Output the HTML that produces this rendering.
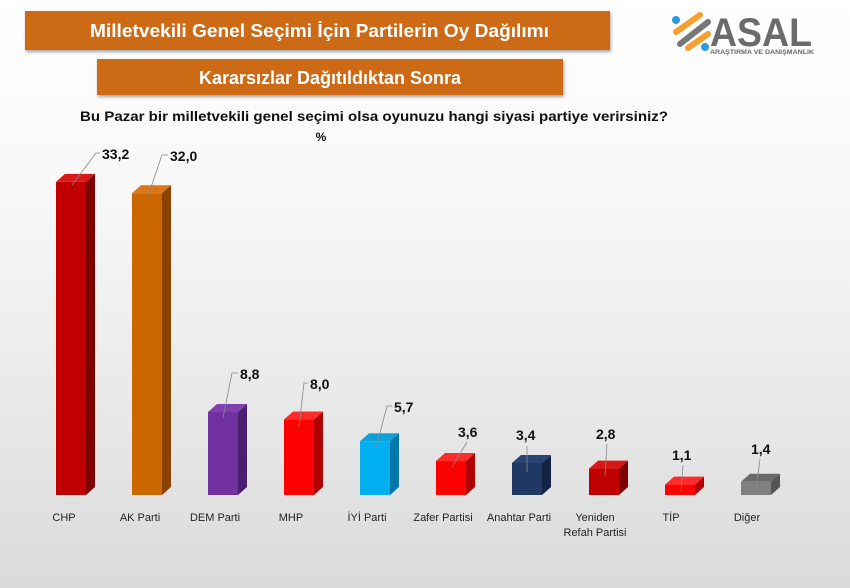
<!DOCTYPE html>
<html><head><meta charset="utf-8"><style>
html,body{margin:0;padding:0}
body{width:850px;height:588px;overflow:hidden;background:linear-gradient(#ffffff 0%,#f7f7f7 35%,#e6e6e6 75%,#dadada 100%);font-family:"Liberation Sans",sans-serif}
</style></head><body>
<svg width="850" height="588" viewBox="0 0 850 588" xmlns="http://www.w3.org/2000/svg" style="position:absolute;left:0;top:0">
<defs><filter id="sh" x="-5%" y="-20%" width="110%" height="150%"><feDropShadow dx="1" dy="2" stdDeviation="1.5" flood-color="#000" flood-opacity="0.35"/></filter></defs>
<rect x="25" y="11" width="585" height="39" fill="#cc6a12" filter="url(#sh)"/>
<text x="90" y="37" fill="#fff" font-weight="bold" font-size="18" textLength="459" lengthAdjust="spacingAndGlyphs">Milletvekili Genel Seçimi İçin Partilerin Oy Dağılımı</text>
<rect x="97" y="59" width="466" height="36" fill="#cc6a12" filter="url(#sh)"/>
<text x="330" y="84" text-anchor="middle" fill="#fff" font-weight="bold" font-size="18">Kararsızlar Dağıtıldıktan Sonra</text>
<text x="80" y="121" fill="#111" font-weight="bold" font-size="13.5" textLength="588" lengthAdjust="spacingAndGlyphs">Bu Pazar bir milletvekili genel seçimi olsa oyunuzu hangi siyasi partiye verirsiniz?</text>
<text x="321" y="141" text-anchor="middle" fill="#111" font-weight="bold" font-size="12">%</text>
<g stroke-linecap="round" fill="none">
<line x1="676" y1="32" x2="700" y2="15" stroke="#f5a030" stroke-width="6"/>
<line x1="680" y1="44" x2="708" y2="22" stroke="#777" stroke-width="6"/>
<line x1="688" y1="48" x2="708" y2="34" stroke="#f5a030" stroke-width="6"/>
</g>
<circle cx="676" cy="20" r="4" fill="#2a9be0"/><circle cx="705" cy="47" r="4" fill="#2a9be0"/>
<text x="710" y="46" fill="#6b6b6b" font-weight="bold" font-size="40" textLength="102" lengthAdjust="spacingAndGlyphs">ASAL</text>
<text x="710" y="54" fill="#6b6b6b" font-weight="bold" font-size="6" textLength="104" lengthAdjust="spacingAndGlyphs">ARAŞTIRMA VE DANIŞMANLIK</text>
<g id="bars"></g>
<g font-size="11" fill="#222" text-anchor="middle">
<text x="64" y="521">CHP</text>
<text x="140" y="521">AK Parti</text>
<text x="215" y="521">DEM Parti</text>
<text x="291" y="521">MHP</text>
<text x="367" y="521">İYİ Parti</text>
<text x="443" y="521">Zafer Partisi</text>
<text x="519" y="521">Anahtar Parti</text>
<text x="595" y="521">Yeniden</text>
<text x="595" y="536">Refah Partisi</text>
<text x="671" y="521">TİP</text>
<text x="747" y="521">Diğer</text>
</g>
<g font-size="14" font-weight="bold" fill="#111">
<text x="102" y="159">33,2</text>
<text x="170" y="161">32,0</text>
<text x="240" y="379">8,8</text>
<text x="310" y="389">8,0</text>
<text x="394" y="412">5,7</text>
<text x="458" y="437">3,6</text>
<text x="516" y="440">3,4</text>
<text x="596" y="439">2,8</text>
<text x="672" y="460">1,1</text>
<text x="751" y="454">1,4</text>
</g>
<g stroke="#888" stroke-width="0.8" fill="none">
<polyline points="72,185 96,153 100,153"/>
<polyline points="148,196 162,155 168,155"/>
<polyline points="223,418 232,373 238,373"/>
<polyline points="299,427 304,383 308,383"/>
<polyline points="376,448 387,406 392,406"/>
<line x1="452" y1="467" x2="467" y2="442"/>
<line x1="527" y1="472" x2="527" y2="446"/>
<line x1="605" y1="476" x2="607" y2="444"/>
<line x1="681" y1="492" x2="683" y2="465"/>
<line x1="756" y1="490" x2="760" y2="459"/>
</g>
</svg>
<script>
var d=[[56,33.2,"#c00000","#7e0000","#d81818"],[132,32.0,"#cc6600","#8a4400","#d9771a"],[208,8.8,"#7030a0","#4b1f70","#8040b0"],[284,8.0,"#ff0000","#b00000","#ff2a2a"],[360,5.7,"#00b0f0","#0077aa","#10a0d8"],[436,3.6,"#ff0000","#b00000","#ff2a2a"],[512,3.4,"#1f3864","#132446","#2a4574"],[589,2.8,"#c00000","#7e0000","#d81818"],[665,1.1,"#ff0000","#b00000","#ff2a2a"],[741,1.4,"#808080","#555555","#6a6a6a"]];
var g=document.getElementById("bars"),s="",B=495,w=30,dx=9,dy=8;
d.forEach(function(b){var x=b[0],t=B-b[1]*9.43;
s+='<polygon points="'+(x+w)+','+t+' '+(x+w+dx)+','+(t-dy)+' '+(x+w+dx)+','+(B-dy)+' '+(x+w)+','+B+'" fill="'+b[3]+'"/>';
s+='<polygon points="'+x+','+t+' '+(x+w)+','+t+' '+(x+w+dx)+','+(t-dy)+' '+(x+dx)+','+(t-dy)+'" fill="'+b[4]+'"/>';
s+='<rect x="'+x+'" y="'+t+'" width="'+w+'" height="'+(B-t)+'" fill="'+b[2]+'"/>';});
g.innerHTML=s;
</script>
</body></html>
